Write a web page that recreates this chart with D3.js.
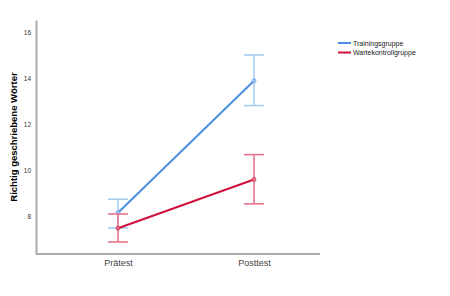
<!DOCTYPE html>
<html>
<head>
<meta charset="utf-8">
<script src="https://cdn.jsdelivr.net/npm/d3@7"></script>
<style>
  body { margin: 0; background: #fff; }
  text { font-family: "Liberation Sans", Arial, sans-serif; }
</style>
</head>
<body>
<svg id="canvas" width="450" height="296"></svg>
<script>
var zeitpunkte = ["Prätest", "Posttest"];
var gruppen = ["Trainingsgruppe", "Wartekontrollgruppe"];
var mittelwerte = [[8.14, 13.88], [7.47, 9.59]];
var obereGrenze = [[8.73, 15.0], [8.09, 10.67]];
var untereGrenze = [[7.48, 12.8], [6.87, 8.53]];
var yTicks = [8, 10, 12, 14, 16];
var farben = ["#4a90e2", "#d0103a"];
var fehlerFarben = ["#a7cbf1", "#e8728d"];

var margins = { left: 36, right: 130, top: 20, bottom: 42 };
var width = 450, height = 296;
var canvas = d3.select("#canvas");

var x = d3.scalePoint()
  .domain(zeitpunkte)
  .range([118, 254]);

var y = d3.scaleLinear()
  .domain([6.35, 16.52])
  .range([height - margins.bottom, margins.top]);

// axes
canvas.append("g")
  .attr("transform", "translate(" + margins.left + ",0)")
  .call(d3.axisLeft(y).tickValues(yTicks).tickSize(0).tickPadding(5))
  .call(function(g) {
    g.select(".domain").attr("stroke", "#aaa").attr("stroke-width", 2);
    g.selectAll("text").attr("font-size", 6.5).attr("fill", "#333").attr("font-family", "Liberation Sans, Arial, sans-serif");
  });

canvas.append("g")
  .attr("transform", "translate(0," + (height - margins.bottom) + ")")
  .call(d3.axisBottom(x).tickSize(0).tickPadding(6))
  .call(function(g) {
    g.select(".domain").attr("d", "M" + margins.left + ",0H" + (width - margins.right)).attr("stroke", "#aaa").attr("stroke-width", 2);
    g.selectAll("text").attr("font-size", 9).attr("fill", "#444").attr("font-family", "Liberation Sans, Arial, sans-serif");
  });

// y axis title
canvas.append("text")
  .attr("transform", "translate(17," + 137 + ") rotate(-90)")
  .attr("text-anchor", "middle")
  .attr("font-size", 9.5)
  .attr("font-weight", "bold")
  .attr("fill", "#000")
  .text("Richtig geschriebene Wörter");

// series
gruppen.forEach(function(g, i) {
  var fehler = canvas.append("g")
    .attr("stroke", fehlerFarben[i])
    .attr("stroke-width", 1.6);
  zeitpunkte.forEach(function(z, j) {
    var cx = x(z);
    fehler.append("line").attr("x1", cx).attr("x2", cx).attr("y1", y(obereGrenze[i][j])).attr("y2", y(untereGrenze[i][j]));
    fehler.append("line").attr("x1", cx - 10).attr("x2", cx + 10).attr("y1", y(obereGrenze[i][j])).attr("y2", y(obereGrenze[i][j]));
    fehler.append("line").attr("x1", cx - 10).attr("x2", cx + 10).attr("y1", y(untereGrenze[i][j])).attr("y2", y(untereGrenze[i][j]));
  });

  var line = d3.line()
    .x(function(d, j) { return x(zeitpunkte[j]); })
    .y(function(d) { return y(d); });

  canvas.append("path")
    .datum(mittelwerte[i])
    .attr("d", line)
    .attr("fill", "none")
    .attr("stroke", farben[i])
    .attr("stroke-width", 2);

  canvas.append("g")
    .selectAll("circle")
    .data(mittelwerte[i])
    .enter()
    .append("circle")
    .attr("cx", function(d, j) { return x(zeitpunkte[j]); })
    .attr("cy", function(d) { return y(d); })
    .attr("r", 2)
    .attr("fill", fehlerFarben[i])
    .attr("stroke", farben[i])
    .attr("stroke-width", 0.6);
});

// legend
var legend = canvas.append("g").attr("transform", "translate(338,43)");
gruppen.forEach(function(g, i) {
  legend.append("line")
    .attr("x1", 0).attr("x2", 13)
    .attr("y1", i * 9.5).attr("y2", i * 9.5)
    .attr("stroke", farben[i])
    .attr("stroke-width", 2);
  legend.append("text")
    .attr("x", 15)
    .attr("y", i * 9.5 + 2.5)
    .attr("font-size", 7)
    .attr("fill", "#222")
    .text(g);
});
</script>
</body>
</html>
